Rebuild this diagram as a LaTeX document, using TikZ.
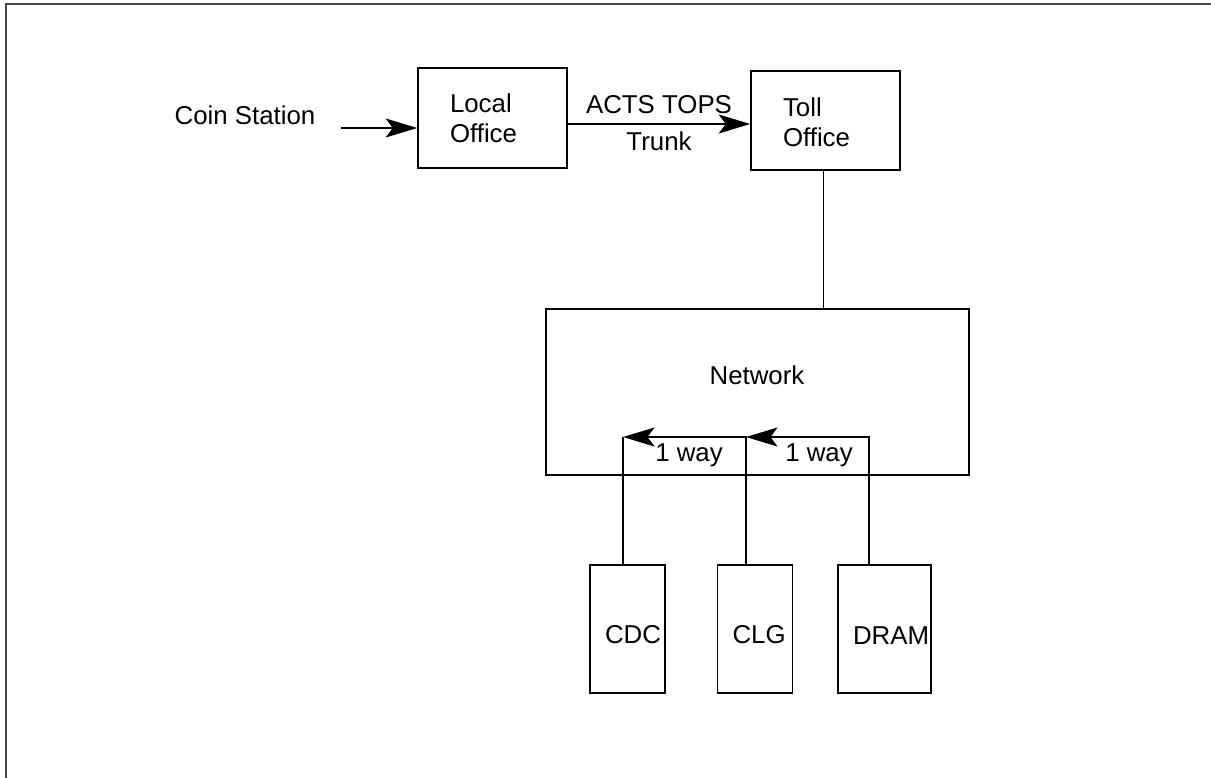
\documentclass[tikz,border=0pt]{standalone}
\usepackage{fontspec}
\setmainfont{Liberation Sans}
\usepackage{tikz}
\usetikzlibrary{arrows.meta,positioning,calc}
\definecolor{framegray}{RGB}{70,70,70}

\begin{document}
\begin{tikzpicture}[
  x=0.02cm, y=-0.02cm,
  font=\fontsize{14.7pt}{17pt}\selectfont,
  line width=0.9pt,
  office/.style={rectangle, draw=black, line width=0.9pt, minimum width=2.98cm,
                 minimum height=2cm, inner xsep=0.64cm, inner ysep=0pt,
                 text width=1.7cm, align=left},
  unit/.style={rectangle, draw=black, line width=0.9pt, minimum width=1.5cm,
               minimum height=2.56cm, inner xsep=0.3cm, inner ysep=0pt,
               text height=0.6cm, align=left},
  lbl/.style={inner sep=0pt},
  arr/.style={-{Stealth[length=0.63cm, width=0.38cm, inset=0.14cm]}, draw=black},
  frame/.style={draw=framegray, line width=1.1pt},
]
\useasboundingbox (0,0) rectangle (1211,778);

% ============================================================
% page frame (top and left edges only)
% ============================================================
\draw[frame] (6,778) -- (6,4) -- (1211,4);

% ============================================================
% TOP ROW: coin station -> local office -> toll office
% ============================================================
\node[lbl] (coin) at (245,115) {Coin Station};
\coordinate (coinend) at (341,128);
\node[office] (local) at (492.5,118) {Local\\Office};
\node[office, minimum height=1.98cm, text height=0.44cm] (toll) at (825.5,120.5) {Toll\\Office};

\draw[arr] (coinend) -- (coinend -| local.west);
\draw[arr] ([yshift=-0.12cm]local.east) -- ([yshift=-0.12cm]local.east -| toll.west)
  node[midway, above=0.08cm] {ACTS TOPS}
  node[midway, below=0.03cm] {Trunk};

% ============================================================
% NETWORK
% ============================================================
\node[rectangle, draw=black, minimum width=8.46cm, minimum height=3.32cm] (net) at (757.5,392) {};
\node[lbl] (netlbl) at (757,375) {Network};
\draw ([xshift=-0.04cm]toll.south) -- ([xshift=-0.04cm]toll.south |- net.north);

% ============================================================
% BOTTOM ROW: CDC, CLG, DRAM with one-way paths
% ============================================================
\node[unit, text width=0.9cm] (cdc)  at (627.5,629) {CDC};
\node[unit, text width=0.9cm, inner xsep=0.28cm] (clg)  at (755,629) {CLG};
\node[unit, minimum width=1.86cm, text width=1.26cm] (dram) at (884.5,629) {DRAM};

\coordinate (w1) at (623,437);
\coordinate (w2) at (746,437);
\coordinate (w3) at (869,437);

\draw (cdc.north -| w1) -- (w1);
\draw[arr] (clg.north -| w2) -- (w2) -- (w1);
\draw[arr] (dram.north -| w3) -- (w3) -- (w2);

\node[lbl] (way1) at (689,455) {1 way};
\node[lbl] (way2) at (819,455) {1 way};

\end{tikzpicture}
\end{document}
